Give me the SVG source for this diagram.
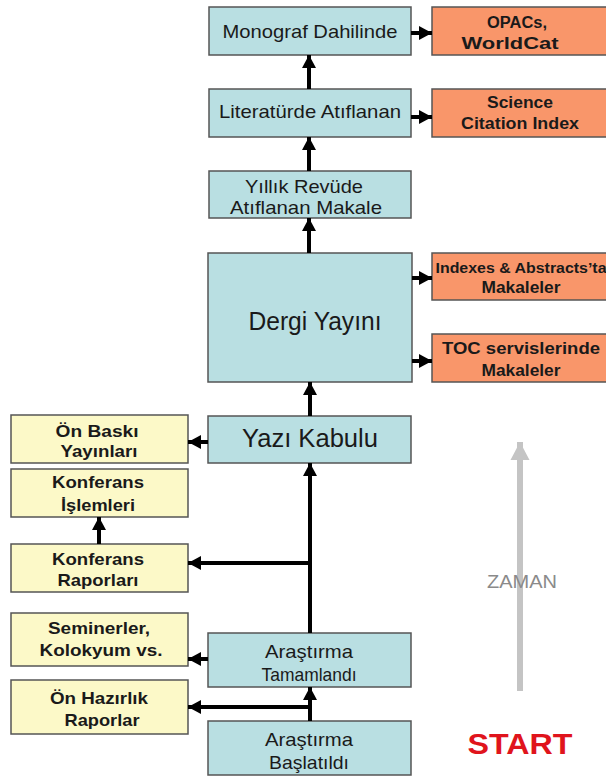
<svg xmlns="http://www.w3.org/2000/svg" width="606" height="776" viewBox="0 0 606 776">
  <defs>
    <marker id="head" markerUnits="userSpaceOnUse" markerWidth="15" markerHeight="15" viewBox="0 0 15 15" refX="13" refY="7.5" orient="auto">
      <path d="M0,0.5 L13,7.5 L0,14.5 Z" fill="#000"/>
    </marker>
    <marker id="timeHead" markerUnits="userSpaceOnUse" markerWidth="20" markerHeight="20" viewBox="0 0 20 20" refX="18" refY="10" orient="auto">
      <path d="M0,0.5 L18,10 L0,19.5 Z" fill="#c4c4c4"/>
    </marker>
    <style>
      .blue { fill: #b9dfe2; stroke: #555; stroke-width: 1.5; }
      .orange { fill: #f9966a; stroke: #555; stroke-width: 1.5; }
      .yellow { fill: #fcf9c8; stroke: #555; stroke-width: 1.5; }
      text { font-family: "Liberation Sans", Arial, sans-serif; text-anchor: middle; fill: #1a1a1a; }
      .n { font-size: 18.5px; }
      .big { font-size: 25px; }
      .b { font-size: 16px; font-weight: bold; }
      .by { font-size: 17px; font-weight: bold; }
      .link { stroke: #000; stroke-width: 4; fill: none; marker-end: url(#head); }
    </style>
  </defs>

  <!-- main chain (blue) -->
  <g id="monograf">
    <rect class="blue" x="209" y="7" width="202" height="48"/>
    <text class="n" x="310" y="38" textLength="175" lengthAdjust="spacingAndGlyphs">Monograf Dahilinde</text>
  </g>
  <g id="literatur">
    <rect class="blue" x="209" y="89" width="202" height="48"/>
    <text class="n" x="310" y="118" textLength="182" lengthAdjust="spacingAndGlyphs">Literatürde Atıflanan</text>
  </g>
  <g id="yillik">
    <rect class="blue" x="209" y="171" width="202" height="47"/>
    <text class="n" x="304" y="193" textLength="118" lengthAdjust="spacingAndGlyphs">Yıllık Revüde</text>
    <text class="n" x="306" y="214" textLength="152" lengthAdjust="spacingAndGlyphs">Atıflanan Makale</text>
  </g>
  <g id="dergi">
    <rect class="blue" x="208" y="253" width="204" height="129"/>
    <text class="big" x="315" y="330" textLength="133" lengthAdjust="spacingAndGlyphs">Dergi Yayını</text>
  </g>
  <g id="yazi">
    <rect class="blue" x="208" y="416" width="203" height="47"/>
    <text class="big" x="310" y="447" textLength="136" lengthAdjust="spacingAndGlyphs">Yazı Kabulu</text>
  </g>
  <g id="tamamlandi">
    <rect class="blue" x="208" y="633" width="203" height="54"/>
    <text class="n" x="309" y="658" textLength="88" lengthAdjust="spacingAndGlyphs">Araştırma</text>
    <text class="n" x="309" y="681" textLength="95" lengthAdjust="spacingAndGlyphs">Tamamlandı</text>
  </g>
  <g id="baslatildi">
    <rect class="blue" x="208" y="721" width="203" height="54"/>
    <text class="n" x="309" y="746" textLength="88" lengthAdjust="spacingAndGlyphs">Araştırma</text>
    <text class="n" x="309" y="769" textLength="80" lengthAdjust="spacingAndGlyphs">Başlatıldı</text>
  </g>

  <!-- indexing services (orange) -->
  <g id="opacs">
    <rect class="orange" x="432" y="7" width="176" height="48"/>
    <text class="b" x="517" y="28" textLength="60" lengthAdjust="spacingAndGlyphs">OPACs,</text>
    <text class="b" x="510" y="49" textLength="97" lengthAdjust="spacingAndGlyphs">WorldCat</text>
  </g>
  <g id="sci">
    <rect class="orange" x="432" y="89" width="176" height="48"/>
    <text class="b" x="520" y="108" textLength="66" lengthAdjust="spacingAndGlyphs">Science</text>
    <text class="b" x="520" y="129" textLength="118" lengthAdjust="spacingAndGlyphs">Citation Index</text>
  </g>
  <g id="indexes">
    <rect class="orange" x="432" y="253" width="176" height="47"/>
    <text class="b" x="521" y="273" font-size="15" style="font-size:15px" textLength="171" lengthAdjust="spacingAndGlyphs">Indexes &amp; Abstracts’ta</text>
    <text class="b" x="521" y="293" textLength="79" lengthAdjust="spacingAndGlyphs">Makaleler</text>
  </g>
  <g id="toc">
    <rect class="orange" x="432" y="334" width="176" height="48"/>
    <text class="b" x="521" y="354" textLength="158" lengthAdjust="spacingAndGlyphs">TOC servislerinde</text>
    <text class="b" x="521" y="376" textLength="79" lengthAdjust="spacingAndGlyphs">Makaleler</text>
  </g>

  <!-- informal outputs (yellow) -->
  <g id="onbaski">
    <rect class="yellow" x="11" y="415" width="177" height="48"/>
    <text class="by" x="97" y="437" textLength="83" lengthAdjust="spacingAndGlyphs">Ön Baskı</text>
    <text class="by" x="99" y="457" textLength="77" lengthAdjust="spacingAndGlyphs">Yayınları</text>
  </g>
  <g id="konf-islemleri">
    <rect class="yellow" x="11" y="469" width="177" height="48"/>
    <text class="by" x="98" y="488" textLength="92" lengthAdjust="spacingAndGlyphs">Konferans</text>
    <text class="by" x="98" y="511" textLength="74" lengthAdjust="spacingAndGlyphs">İşlemleri</text>
  </g>
  <g id="konf-raporlari">
    <rect class="yellow" x="11" y="544" width="177" height="48"/>
    <text class="by" x="98" y="565" textLength="92" lengthAdjust="spacingAndGlyphs">Konferans</text>
    <text class="by" x="98" y="586" textLength="81" lengthAdjust="spacingAndGlyphs">Raporları</text>
  </g>
  <g id="seminerler">
    <rect class="yellow" x="11" y="613" width="177" height="53"/>
    <text class="by" x="99" y="634" textLength="102" lengthAdjust="spacingAndGlyphs">Seminerler,</text>
    <text class="by" x="101" y="656" textLength="123" lengthAdjust="spacingAndGlyphs">Kolokyum vs.</text>
  </g>
  <g id="onhazirlik">
    <rect class="yellow" x="11" y="680" width="177" height="54"/>
    <text class="by" x="99" y="704" textLength="98" lengthAdjust="spacingAndGlyphs">Ön Hazırlık</text>
    <text class="by" x="102" y="726" textLength="75" lengthAdjust="spacingAndGlyphs">Raporlar</text>
  </g>

  <!-- connectors -->
  <g id="connectors">
    <path class="link" d="M309,89 V55"/>
    <path class="link" d="M309,171 V137"/>
    <path class="link" d="M309,253 V218"/>
    <path class="link" d="M310,416 V382"/>
    <path class="link" d="M310,633 V463"/>
    <path class="link" d="M310,563 H188"/>
    <path class="link" d="M99,544 V517"/>
    <path class="link" d="M208,442 H188"/>
    <path class="link" d="M208,659 H188"/>
    <path class="link" d="M310,721 V687"/>
    <path class="link" d="M310,707 H188"/>
    <path class="link" d="M411,33 H432"/>
    <path class="link" d="M411,117 H432"/>
    <path class="link" d="M412,278 H432"/>
    <path class="link" d="M412,361 H432"/>
  </g>

  <!-- time axis -->
  <g id="zaman">
    <path d="M520,691 V442" stroke="#c4c4c4" stroke-width="6" fill="none" marker-end="url(#timeHead)"/>
    <text x="522" y="588" font-size="19" style="fill:#8a8a8a" textLength="70" lengthAdjust="spacingAndGlyphs">ZAMAN</text>
  </g>
  <g id="start">
    <text x="520" y="754" font-size="30" font-weight="bold" style="fill:#e0141c" textLength="105" lengthAdjust="spacingAndGlyphs">START</text>
  </g>
</svg>
